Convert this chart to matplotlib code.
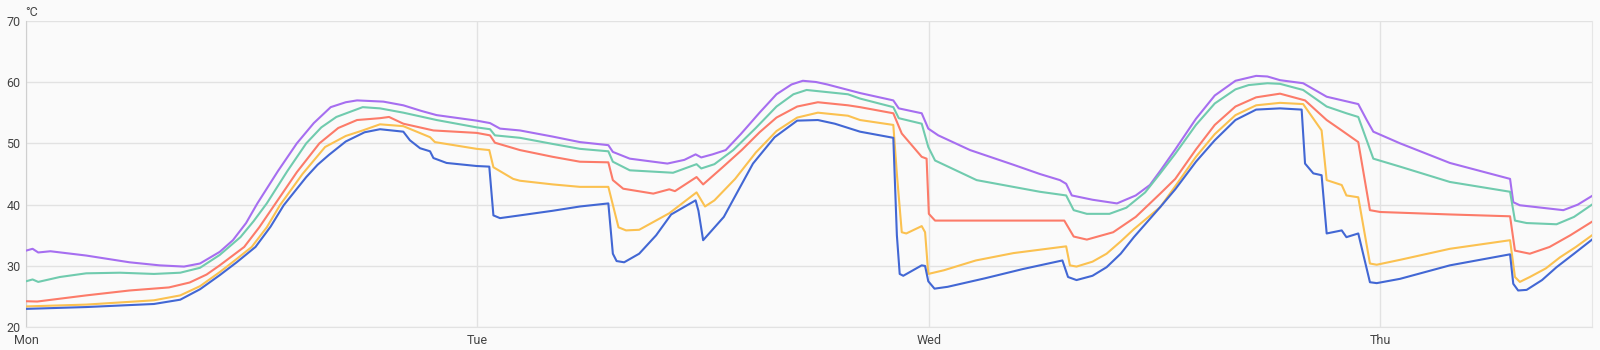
import matplotlib
matplotlib.use("Agg")
import matplotlib.pyplot as plt

# hours since Monday 00:00 and temperature readings (°C) for each sensor
blue_h = [0, 3.2, 6.8, 8.2, 9.25, 10.3, 11.2, 12.2, 13.0, 13.7, 14.9, 15.5, 16.1, 17.0, 18.0, 18.82, 20.06, 20.41, 20.95,
          21.48, 21.66, 22.36, 23.96, 24.63, 24.85, 25.2, 26.26, 28.0, 29.45, 30.96, 31.2, 31.4, 31.8, 32.6, 33.5,
          34.3, 35.6, 35.75, 36.0, 37.1, 37.9, 38.65, 39.8, 41.0, 42.1, 43.0, 44.34, 46.11, 46.3, 46.45, 46.64, 47.62,
          47.8, 47.97, 48.3, 49.0, 51.0, 53.0, 55.1, 55.4, 55.85, 56.7, 57.45, 58.2, 58.9, 60.3, 61.1, 62.2, 63.2,
          64.3, 65.4, 66.67, 67.82, 68.0, 68.44, 68.88, 69.15, 69.95, 70.2, 70.83, 71.45, 71.81, 73.05, 75.7, 78.9,
          79.07, 79.33, 79.78, 80.6, 81.37, 82.3, 83.3]
blue_t = [23.0, 23.3, 23.8, 24.5, 26.2, 28.5, 30.6, 33.1, 36.4, 39.9, 44.5, 46.5, 48.1, 50.3, 51.8, 52.3, 51.9, 50.5, 49.2,
          48.7, 47.6, 46.8, 46.3, 46.2, 38.25, 37.8, 38.25, 39.0, 39.7, 40.2, 32.0, 30.8, 30.6, 32.0, 35.0,
          38.4, 40.7, 39.0, 34.2, 38.0, 42.5, 46.7, 51.0, 53.7, 53.8, 53.2, 51.9, 50.9, 35.0, 28.7, 28.4, 30.1,
          30.0, 27.5, 26.3, 26.6, 28.0, 29.5, 30.9, 28.2, 27.7, 28.4, 29.8, 32.0, 34.7, 39.6, 42.5, 47.0, 50.5,
          53.8, 55.5, 55.7, 55.5, 46.7, 45.1, 44.8, 35.3, 35.8, 34.7, 35.3, 27.35, 27.2, 27.9, 30.1, 31.9,
          27.1, 26.0, 26.1, 27.7, 29.8, 32.0, 34.4]

yellow_h = [0, 3.2, 6.8, 8.2, 9.25, 10.3, 11.1, 12.0, 12.8, 13.5, 14.7, 15.9, 17.0, 17.9, 18.82, 20.06, 21.48, 21.74,
            23.96, 24.63, 24.85, 25.9, 26.26, 28.0, 29.45, 30.96, 31.5, 31.9, 32.6, 34.2, 35.65, 36.1, 36.6, 37.7,
            38.8, 39.9, 41.0, 42.1, 43.7, 44.34, 46.11, 46.3, 46.56, 46.8, 47.62, 47.8, 47.97, 48.8, 50.5, 52.5, 55.3,
            55.5, 55.85, 56.7, 57.45, 58.2, 58.9, 60.3, 61.1, 62.2, 63.2, 64.3, 65.4, 66.67, 67.9, 68.88, 69.15,
            69.95, 70.2, 70.83, 71.45, 71.81, 73.05, 75.7, 78.9, 79.16, 79.42, 79.95, 80.8, 81.55, 82.4, 83.3]
yellow_t = [23.4, 23.7, 24.4, 25.2, 26.7, 29.0, 30.9, 33.1, 36.3, 39.9, 45.0, 49.4, 51.2, 52.1, 53.1, 52.8, 51.0, 50.2,
            49.1, 48.9, 46.1, 44.2, 43.9, 43.3, 42.9, 42.9, 36.3, 35.8, 35.9, 38.6, 42.0, 39.7, 40.7, 44.2,
            48.5, 52.0, 54.2, 55.0, 54.5, 53.8, 53.0, 45.0, 35.5, 35.3, 36.5, 35.5, 28.7, 29.3, 30.9, 32.1, 33.2,
            30.1, 29.9, 30.7, 32.0, 34.0, 36.0, 39.6, 43.0, 47.8, 51.5, 54.6, 56.2, 56.6, 56.4, 52.1, 44.0,
            43.2, 41.5, 41.2, 30.4, 30.2, 31.0, 32.8, 34.2, 28.2, 27.4, 28.2, 29.6, 31.4, 33.1, 35.1]

red_h = [0, 0.6, 3.2, 5.5, 7.6, 8.7, 9.6, 10.3, 11.6, 12.4, 13.2, 14.4, 15.6, 16.6, 17.6, 18.82, 19.3, 20.06, 21.66,
         23.96, 24.67, 24.93, 26.26, 28.0, 29.45, 30.96, 31.2, 31.75, 33.35, 34.2, 34.5, 35.65, 36.0, 37.0, 38.05,
         39.0, 39.9, 41.0, 42.1, 43.7, 44.34, 46.11, 46.56, 47.62, 47.88, 48.0, 48.33, 55.2, 55.7, 56.4, 57.8, 59.0,
         60.3, 61.1, 62.2, 63.2, 64.3, 65.4, 66.67, 68.0, 69.15, 69.95, 70.83, 71.45, 72.0, 75.7, 78.9, 79.16,
         79.95, 81.0, 82.1, 83.3]
red_t = [24.25, 24.2, 25.2, 26.0, 26.5, 27.3, 28.6, 30.1, 33.1, 36.3, 39.9, 45.3, 50.0, 52.5, 53.8, 54.1, 54.3, 53.2, 52.1,
         51.7, 51.3, 50.1, 48.9, 47.8, 47.0, 46.9, 44.0, 42.6, 41.8, 42.5, 42.2, 44.5, 43.3, 46.0, 48.9,
         51.8, 54.2, 56.0, 56.7, 56.2, 55.9, 54.9, 51.6, 47.8, 47.5, 38.5, 37.4, 37.4, 34.8, 34.3, 35.5, 38.0,
         41.8, 44.2, 49.0, 53.0, 56.0, 57.5, 58.1, 57.0, 53.8, 52.1, 50.2, 39.1, 38.8, 38.4, 38.1, 32.5,
         32.0, 33.1, 35.0, 37.3]

green_h = [0, 0.35, 0.65, 1.8, 3.2, 5.0, 6.8, 8.2, 9.25, 10.3, 11.4, 12.1, 12.8, 13.9, 14.9, 15.7, 16.5, 17.9, 18.82,
           20.06, 21.83, 23.96, 24.67, 24.93, 26.26, 28.0, 29.45, 30.96, 31.2, 32.1, 34.4, 35.65, 35.9, 36.6, 37.6,
           38.8, 39.9, 40.8, 41.5, 43.7, 44.34, 46.11, 46.4, 47.62, 47.97, 48.33, 50.54, 53.9, 55.3, 55.7, 56.4,
           57.6, 58.5, 59.5, 60.3, 61.1, 62.2, 63.2, 64.3, 65.0, 66.0, 66.67, 67.9, 69.15, 70.2, 70.83, 71.63,
           73.05, 75.7, 78.9, 79.16, 79.78, 81.37, 82.3, 83.3]
green_t = [27.5, 27.8, 27.4, 28.2, 28.8, 28.9, 28.7, 28.9, 29.7, 31.8, 34.7, 37.3, 40.2, 45.5, 50.0, 52.6, 54.3, 55.9,
           55.7, 55.0, 53.8, 52.6, 52.3, 51.3, 50.9, 49.9, 49.1, 48.7, 47.0, 45.6, 45.2, 46.6, 45.9, 46.6, 48.9,
           52.5, 56.0, 58.0, 58.7, 58.0, 57.3, 55.9, 54.1, 53.2, 49.4, 47.2, 44.0, 42.1, 41.5, 39.1, 38.5,
           38.5, 39.5, 42.0, 45.1, 48.3, 53.0, 56.5, 58.8, 59.5, 59.8, 59.7, 58.7, 56.0, 54.9, 54.3, 47.5,
           46.2, 43.7, 42.1, 37.4, 37.0, 36.8, 38.0, 40.1]

purple_h = [0, 0.35, 0.65, 1.3, 3.2, 5.5, 7.1, 8.4, 9.25, 10.3, 11.0, 11.7, 12.3, 13.4, 14.4, 15.3, 16.2, 17.0, 17.6,
            19.0, 20.06, 21.0, 21.83, 23.96, 24.67, 25.2, 26.26, 28.0, 29.45, 30.96, 31.2, 32.1, 34.1, 35.0, 35.6,
            35.9, 36.5, 37.2, 38.0, 39.0, 39.9, 40.7, 41.3, 42.0, 42.6, 44.34, 46.11, 46.4, 47.62, 47.97, 48.5,
            50.19, 52.5, 53.9, 54.97, 55.3, 55.6, 56.7, 58.0, 59.0, 59.75, 60.3, 61.1, 62.2, 63.2, 64.3, 65.4,
            66.0, 66.67, 67.9, 69.15, 70.83, 71.28, 71.63, 73.05, 75.7, 78.9, 79.07, 79.42, 81.73, 82.5, 83.3]
purple_t = [32.5, 32.8, 32.2, 32.4, 31.7, 30.6, 30.1, 29.9, 30.4, 32.3, 34.2, 37.0, 40.2, 45.5, 50.0, 53.3, 55.9, 56.7,
            57.0, 56.8, 56.2, 55.3, 54.6, 53.7, 53.3, 52.4, 52.1, 51.1, 50.2, 49.7, 48.6, 47.5, 46.7, 47.3, 48.2,
            47.7, 48.2, 48.9, 51.5, 55.0, 58.0, 59.6, 60.2, 60.0, 59.6, 58.2, 57.0, 55.7, 54.9, 52.4, 51.3,
            48.9, 46.5, 45.0, 44.0, 43.4, 41.5, 40.8, 40.2, 41.5, 43.2, 45.5, 49.0, 54.0, 57.8, 60.2, 61.0,
            60.9, 60.3, 59.8, 57.6, 56.4, 53.8, 51.9, 50.0, 46.8, 44.2, 40.4, 39.9, 39.1, 40.0, 41.5]

day_ticks = [0, 24, 48, 72]
day_labels = ["Mon", "Tue", "Wed", "Thu"]
y_ticks = [20, 30, 40, 50, 60, 70]

plt.rcParams["font.family"] = ["Roboto", "DejaVu Sans"]

fig = plt.figure(figsize=(16, 3.5), dpi=100, facecolor="#fafafa")
ax = fig.add_axes([0.01625, 0.0649, 0.97856, 0.876])
ax.set_facecolor("#fafafa")

series = [
    (purple_h, purple_t, "#a66ef0"),
    (green_h, green_t, "#70cbae"),
    (red_h, red_t, "#fc7b69"),
    (yellow_h, yellow_t, "#fbc150"),
    (blue_h, blue_t, "#4267d4"),
]
for hh, tt, col in series:
    ax.plot(hh, tt, color=col, lw=1.5, solid_joinstyle="round", zorder=3)

ax.set_xlim(0, 83.24)
ax.set_ylim(20, 70)
ax.set_xticks(day_ticks)
ax.set_xticklabels(day_labels)
ax.set_yticks(y_ticks)
ax.grid(True, color="#e2e2e2", lw=1.0, zorder=0)
ax.tick_params(length=0, labelsize=9, colors="#444444")
ax.tick_params(axis="y", pad=4)
ax.tick_params(axis="x", pad=5)
ax.spines["top"].set_visible(False)
ax.spines["left"].set_color("#cfcfcf")
ax.spines["bottom"].set_color("#e2e2e2")
ax.spines["right"].set_color("#e6e6e6")

fig.text(25 / 1600, 1 - 12 / 350, "°C", fontsize=9, color="#444444", ha="left", va="center")

fig.savefig("out.png", dpi=100, facecolor=fig.get_facecolor())
